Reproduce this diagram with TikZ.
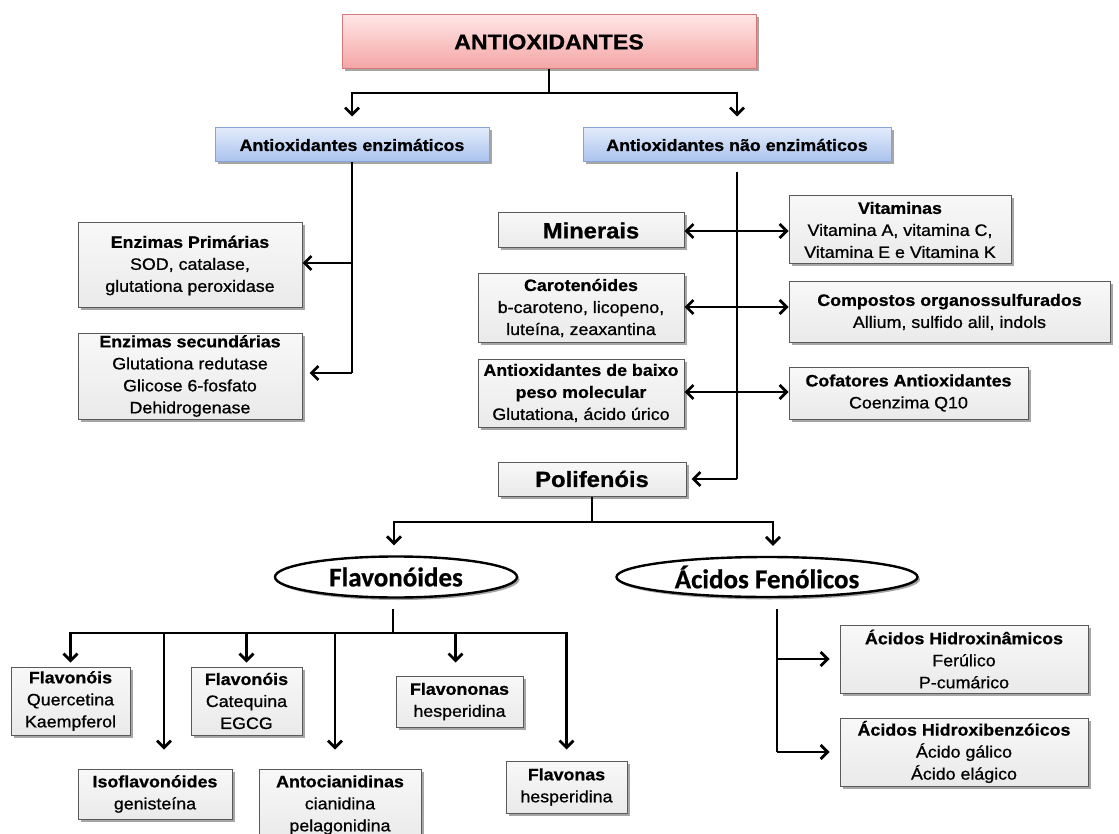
\documentclass[tikz,border=0pt]{standalone}
\usepackage{fontspec}
\setmainfont[FakeStretch=1.08,UprightFeatures={FakeBold=0.8},BoldFeatures={FakeBold=0.8}]{Liberation Sans}
\newfontfamily\ellfont[BoldFeatures={FakeBold=0.6}]{Carlito}
\usetikzlibrary{arrows.meta,shadows,shapes.geometric,calc}

\definecolor{pinktop}{HTML}{FFE6E6}
\definecolor{pinkbot}{HTML}{F4A4A4}
\definecolor{pinkline}{HTML}{D7797B}
\definecolor{bluetop}{HTML}{E2EBFB}
\definecolor{bluebot}{HTML}{A9C2EE}
\definecolor{blueline}{HTML}{86A3D8}
\definecolor{graytop}{HTML}{F8F8F8}
\definecolor{graybot}{HTML}{EAEAEA}
\definecolor{boxline}{HTML}{5A5A5A}

\tikzset{
  shadowed/.style={drop shadow={shadow xshift=2.5pt,shadow yshift=-2.5pt,opacity=.35,fill=black}},
  graybox/.style={draw=boxline,line width=1pt,top color=graytop,bottom color=graybot,
    align=center,inner sep=1pt,font=\fontsize{16.5}{22}\selectfont,shadowed},
  bluebox/.style={graybox,draw=blueline,top color=bluetop,bottom color=bluebot,
    font=\fontsize{16.5}{20}\selectfont\bfseries},
  pinkbox/.style={graybox,draw=pinkline,top color=pinktop,bottom color=pinkbot,
    font=\fontsize{21.5}{24}\selectfont\bfseries},
  bigbox/.style={graybox,font=\fontsize{22}{24}\selectfont\bfseries},
  ellbox/.style={ellipse,draw,line width=2.4pt,fill=white,inner sep=0pt,shadowed,
    font=\ellfont\fontsize{27}{30}\selectfont\bfseries},
  conn/.style={line width=2.8pt},
  connarr/.style={conn,-{Straight Barb[length=7pt,width=14pt]}}
}

\begin{document}
\begin{tikzpicture}[x=1pt,y=-1pt]
\path[use as bounding box,fill=white] (0,0) rectangle (1119,834);

\node[pinkbox,minimum width=414pt,minimum height=54pt] (anti) at (549,42) {ANTIOXIDANTES};
\node[bluebox,minimum width=274pt,minimum height=34pt] (enz) at (352,145) {Antioxidantes enzimáticos};
\node[bluebox,minimum width=308pt,minimum height=34pt] (nenz) at (737,145) {Antioxidantes não enzimáticos};

\node[graybox,minimum width=224pt,minimum height=85pt] (prim) at (190,265.5)
  {\textbf{Enzimas Primárias}\\SOD, catalase,\\glutationa peroxidase};
\node[graybox,minimum width=224pt,minimum height=86pt] (sec) at (190,376)
  {\textbf{Enzimas secundárias}\\Glutationa redutase\\Glicose 6-fosfato\\Dehidrogenase};

\node[bigbox,minimum width=186pt,minimum height=35pt] (miner) at (591,230.5) {Minerais};
\node[graybox,minimum width=206pt,minimum height=68pt] (carot) at (581,308)
  {\textbf{Carotenóides}\\b-caroteno, licopeno,\\luteína, zeaxantina};
\node[graybox,minimum width=206pt,minimum height=68pt] (baixo) at (581,393)
  {\textbf{Antioxidantes de baixo}\\\textbf{peso molecular}\\Glutationa, ácido úrico};
\node[graybox,minimum width=222pt,minimum height=68pt] (vitam) at (900,230)
  {\textbf{Vitaminas}\\Vitamina A, vitamina C,\\Vitamina E e Vitamina K};
\node[graybox,minimum width=321pt,minimum height=60pt] (compo) at (949.5,312)
  {\textbf{Compostos organossulfurados}\\Allium, sulfido alil, indols};
\node[graybox,minimum width=239pt,minimum height=52pt] (cofat) at (908.5,393)
  {\textbf{Cofatores Antioxidantes}\\Coenzima Q10};

\node[bigbox,minimum width=188pt,minimum height=34pt] (polif) at (592,479) {Polifenóis};
\node[ellbox,minimum width=242pt,minimum height=41pt] (flav) at (396,577) {Flavonóides};
\node[ellbox,minimum width=301pt,minimum height=40pt] (acid) at (767,577) {Ácidos Fenólicos};

\node[graybox,minimum width=119pt,minimum height=68pt] (fl1) at (70.5,701)
  {\textbf{Flavonóis}\\Quercetina\\Kaempferol};
\node[graybox,minimum width=154pt,minimum height=50pt] (iso) at (155,794)
  {\textbf{Isoflavonóides}\\genisteína};
\node[graybox,minimum width=111pt,minimum height=68pt] (fl2) at (246.5,701)
  {\textbf{Flavonóis}\\Catequina\\EGCG};
\node[graybox,minimum width=162pt,minimum height=72pt] (anto) at (340,805)
  {\textbf{Antocianidinas}\\cianidina\\pelagonidina};
\node[graybox,minimum width=127pt,minimum height=51pt] (flnona) at (459.5,701.5)
  {\textbf{Flavononas}\\hesperidina};
\node[graybox,minimum width=121pt,minimum height=52pt] (flvona) at (566.5,787)
  {\textbf{Flavonas}\\hesperidina};
\node[graybox,minimum width=248pt,minimum height=68pt] (hcin) at (964,659)
  {\textbf{Ácidos Hidroxinâmicos}\\Ferúlico\\P-cumárico};
\node[graybox,minimum width=248pt,minimum height=68pt] (hben) at (964,752)
  {\textbf{Ácidos Hidroxibenzóicos}\\Ácido gálico\\Ácido elágico};

% top split
\coordinate (t0) at (549,93);
\draw[conn] (anti) -- (t0);
\draw[connarr] (t0) -| ($(enz.north)+(0,-11)$);
\draw[connarr] (t0) -| ($(nenz.north)+(0,-11)$);

% enzimaticos
\coordinate (e1) at (352,263);
\coordinate (e2) at (352,373);
\draw[conn] (enz) -- (e2);
\draw[connarr] (e1) -- (e1 -| prim.east);
\draw[connarr] (e2) -- ($(e2 -| sec.east)+(7,0)$);

% nao enzimaticos
\coordinate (n0) at (737,172);
\coordinate (n1) at (737,231);
\coordinate (n2) at (737,307);
\coordinate (n3) at (737,392);
\coordinate (n4) at (737,479);
\draw[conn] (n0) -- (n4);
\draw[connarr] (n1) -- (n1 -| miner.east);
\draw[connarr] (n1) -- (n1 -| vitam.west);
\draw[connarr] (n2) -- (n2 -| carot.east);
\draw[connarr] (n2) -- (n2 -| compo.west);
\draw[connarr] (n3) -- (n3 -| baixo.east);
\draw[connarr] (n3) -- (n3 -| cofat.west);
\draw[connarr] (n4) -- ($(n4 -| polif.east)+(5,0)$);

% polifenois
\coordinate (p0) at (592,522);
\draw[conn] (polif) -- (p0);
\draw[connarr] (p0) -| ($(flav.north)+(-2,-10)$);
\draw[connarr] (p0) -| ($(acid.north)+(6,-10)$);

% flavonoides
\coordinate (f0) at (393,633);
\draw[conn] ($(flav.south)+(-3,10)$) -- (f0);
\draw[connarr] (f0) -| ($(fl1.north)+(0,-4)$);
\draw[connarr] (f0) -| ($(iso.north)+(9,-19)$);
\draw[connarr] (f0) -| ($(fl2.north)+(0,-4)$);
\draw[connarr] (f0) -| ($(anto.north)+(-5,-19)$);
\draw[connarr] (f0) -| ($(flnona.north)+(-4,-13)$);
\draw[connarr] (f0) -| ($(flvona.north)+(0,-11)$);

% acidos fenolicos
\coordinate (a1) at (777,659);
\coordinate (a2) at (777,752);
\draw[conn] ($(acid.south)+(10,11)$) -- (a2);
\draw[connarr] (a1) -- ($(a1 -| hcin.west)+(-10,0)$);
\draw[connarr] (a2) -- ($(a2 -| hben.west)+(-10,0)$);
\end{tikzpicture}
\end{document}
